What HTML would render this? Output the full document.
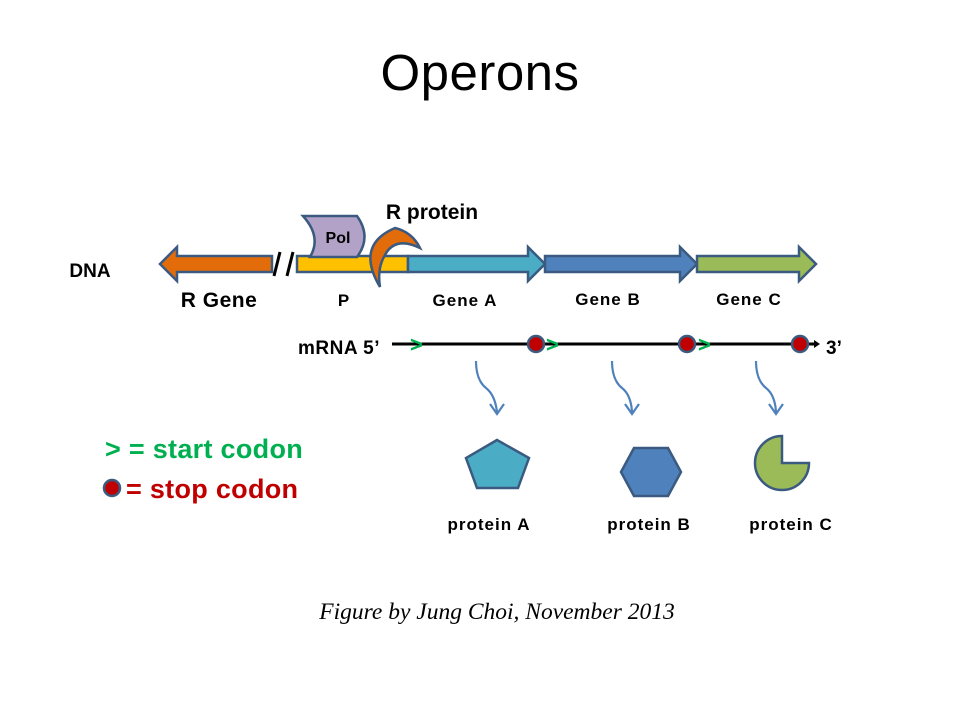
<!DOCTYPE html>
<html><head><style>body{margin:0;background:#fff}svg{display:block}</style></head><body>
<svg width="960" height="720" viewBox="0 0 960 720" xmlns="http://www.w3.org/2000/svg" font-family="Liberation Sans, sans-serif">
<text x="480" y="90" font-size="51" text-anchor="middle" letter-spacing="0.5">Operons</text>
<g stroke="#3b5a80" stroke-width="2.5" stroke-linejoin="miter">
<polygon points="160,264 177,247 177,256 272,256 272,272 177,272 177,281" fill="#e36c0a"/>
<rect x="297" y="256" width="111" height="16" fill="#ffc000"/>
<polygon points="408,256 528,256 528,247 545,264 528,281 528,272 408,272" fill="#4bacc6"/>
<polygon points="545,256 680,256 680,247 697,264 680,281 680,272 545,272" fill="#4f81bd"/>
<polygon points="697,256 799,256 799,247 816,264 799,281 799,272 697,272" fill="#9bbb59"/>
<path d="M303,216 L357,216 Q372,237 357,257 L310,257 Q322,237 303,216 Z" fill="#b2a2c7"/>
<path d="M380,287 Q355,245 395,228 Q412,232 420,248 Q395,236 385,255 Q377,268 380,287 Z" fill="#e36c0a"/>
</g>
<g stroke="#000" stroke-width="3"><line x1="274" y1="276" x2="280" y2="252"/><line x1="287" y1="276" x2="293" y2="252"/></g>
<text x="338" y="243" font-size="16" font-weight="bold" text-anchor="middle">Pol</text>
<text x="432" y="219" font-size="21" font-weight="bold" text-anchor="middle">R protein</text>
<text x="90" y="277" font-size="19" font-weight="bold" text-anchor="middle">DNA</text>
<text x="219" y="307" font-size="21" font-weight="bold" text-anchor="middle" letter-spacing="0.5">R Gene</text>
<g font-size="17" font-weight="bold" text-anchor="middle" letter-spacing="1">
<text x="344" y="306">P</text><text x="465" y="306">Gene A</text><text x="608" y="305">Gene B</text><text x="749" y="305">Gene C</text>
<text x="489" y="530">protein A</text><text x="649" y="530">protein B</text><text x="791" y="530">protein C</text>
</g>
<text x="339" y="354" font-size="19" font-weight="bold" text-anchor="middle" letter-spacing="0.5">mRNA 5’</text>
<text x="826" y="354" font-size="19" font-weight="bold">3’</text>
<line x1="392" y1="344" x2="815" y2="344" stroke="#000" stroke-width="3"/>
<polygon points="814,340 820,344 814,348" fill="#000"/>
<g font-size="22" font-weight="bold" fill="#00b050">
<text x="410" y="352">&gt;</text><text x="546" y="352">&gt;</text><text x="698" y="352">&gt;</text></g>
<g fill="#c00000" stroke="#3b5a80" stroke-width="2.5">
<circle cx="536" cy="344" r="8"/><circle cx="687" cy="344" r="8"/><circle cx="800" cy="344" r="8"/><circle cx="112" cy="488" r="8"/></g>
<g stroke="#4f81bd" stroke-width="2.2" fill="none">
<path d="M476,361 Q476,380 486,388 Q495,395 497,412"/><polyline points="490,404 497,414 504,404"/>
<path d="M612,361 Q612,380 622,388 Q631,395 632,412"/><polyline points="625,404 632,414 639,404"/>
<path d="M756,361 Q756,380 766,388 Q775,395 776,412"/><polyline points="769,404 776,414 783,404"/>
</g>
<g stroke="#3b5a80" stroke-width="2.5">
<polygon points="497,440 529,458 518,488 477,488 466,458" fill="#4bacc6"/>
<polygon points="634,448 668,448 681,472 668,496 634,496 621,472" fill="#4f81bd"/>
<path d="M782,463 L809,463 A27,27 0 1 1 782,436 Z" fill="#9bbb59"/>
</g>
<text x="105" y="458" font-size="27" font-weight="bold" fill="#00b050" letter-spacing="0.3">&gt; = start codon</text>
<text x="126" y="498" font-size="27" font-weight="bold" fill="#c00000" letter-spacing="0.3">= stop codon</text>
<text x="497" y="619" font-size="23.5" font-style="italic" font-family="Liberation Serif, serif" text-anchor="middle">Figure by Jung Choi, November 2013</text>
</svg>
</body></html>
